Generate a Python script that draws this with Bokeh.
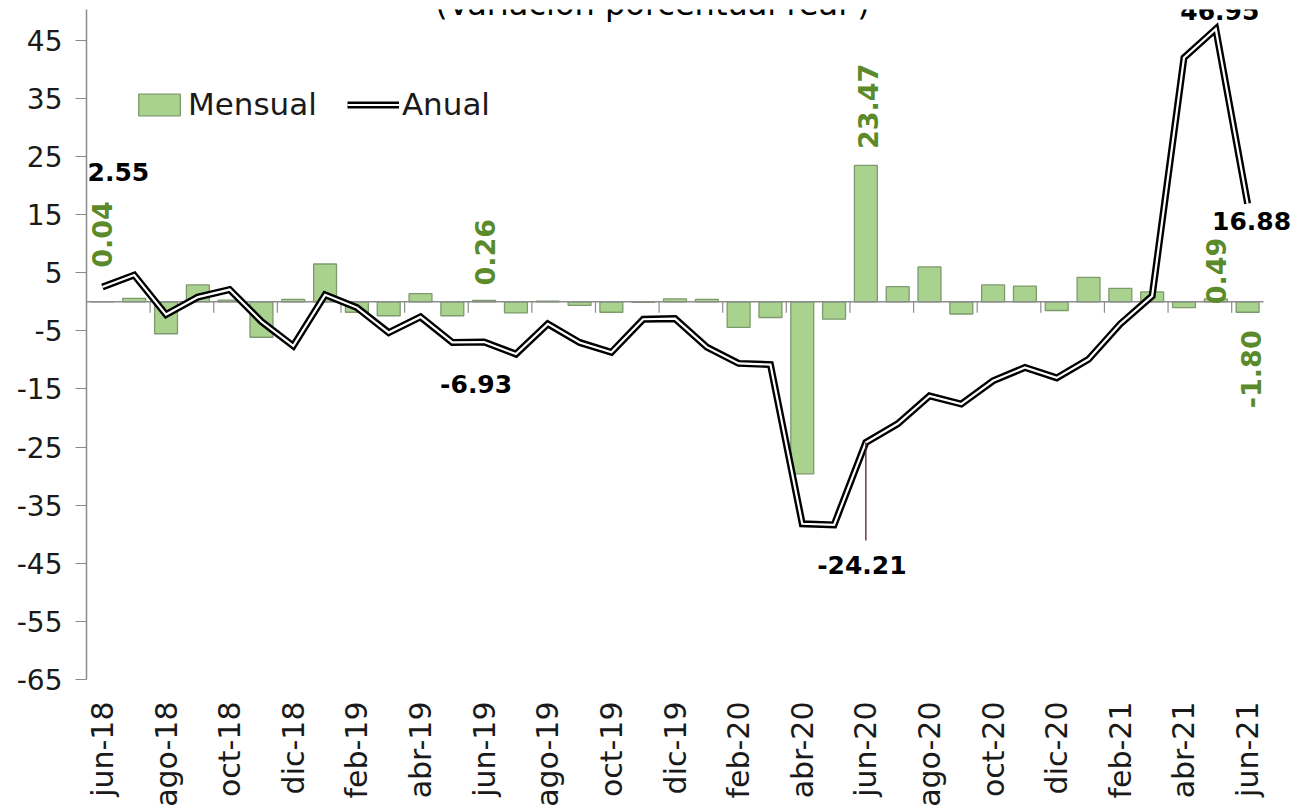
import math
from bokeh.plotting import figure
from bokeh.models import Range1d, FixedTicker, Legend, LegendItem, Label
from bokeh.embed import file_html
from bokeh.resources import INLINE

# ---------------- data ----------------
meses = ["jun-18", "jul-18", "ago-18", "sep-18", "oct-18", "nov-18", "dic-18",
         "ene-19", "feb-19", "mar-19", "abr-19", "may-19", "jun-19", "jul-19",
         "ago-19", "sep-19", "oct-19", "nov-19", "dic-19", "ene-20", "feb-20",
         "mar-20", "abr-20", "may-20", "jun-20", "jul-20", "ago-20", "sep-20",
         "oct-20", "nov-20", "dic-20", "ene-21", "feb-21", "mar-21", "abr-21",
         "may-21", "jun-21"]

mensual = [0.04, 0.6, -5.5, 2.9, 0.3, -6.1, 0.4, 6.5, -1.8, -2.4, 1.4, -2.4,
           0.26, -1.9, 0.1, -0.6, -1.8, -0.1, 0.5, 0.4, -4.4, -2.7, -29.6, -3.0,
           23.47, 2.6, 6.0, -2.1, 2.9, 2.7, -1.5, 4.2, 2.3, 1.7, -1.0, 0.49, -1.80]

anual = [2.55, 4.6, -2.2, 0.8, 2.1, -3.4, -7.6, 1.2, -1.0, -5.3, -2.6, -7.0,
         -6.93, -9.0, -3.8, -7.0, -8.7, -3.0, -2.9, -7.8, -10.6, -10.8, -38.2,
         -38.4, -24.21, -21.0, -16.2, -17.6, -13.6, -11.3, -13.1, -9.9, -3.8,
         1.0, 42.0, 46.95, 16.88]

y_ticks = [-65, -55, -45, -35, -25, -15, -5, 5, 15, 25, 35, 45]
titulo = "(Variación porcentual real )"
serie_nombres = ["Mensual", "Anual"]

idx_etiquetas = [0, 12, 24, 35, 36]

# ---------------- style / layout ----------------
W, H = 1293, 811
Y0, Y1 = -65, 50.3
GREEN_TXT = "#5b8a2b"
BAR_FILL = "#a9d28e"
BAR_LINE = "#7d9a6c"
AXIS_GRAY = "#8c8c8c"
B_LEFT, B_RIGHT, B_TOP, B_BOTTOM = 86, 3, 9, 132
PLOT_W = 1177          # width of the category axis (zero line) in px
RIGHT_PAD = W - B_LEFT - B_RIGHT - PLOT_W   # room right of it for the end labels

# label offsets in screen px (x right, y up)
off_anual = [(16, 115), (-8, -42), (-4, -123), (4, 18), (4, -17)]
off_mensual = [(0, 67), (1, 48), (2, 59), (0, 28), (3, -57)]

n = len(meses)
x = list(range(n))
cat_px = PLOT_W / n
XR0, XR1 = -0.5, n - 0.5 + RIGHT_PAD / cat_px

p = figure(width=W, height=H, x_range=Range1d(XR0, XR1), y_range=Range1d(Y0, Y1),
           output_backend="svg", toolbar_location=None,
           min_border_left=B_LEFT, min_border_right=B_RIGHT,
           min_border_top=B_TOP, min_border_bottom=B_BOTTOM)
p.grid.visible = False
p.outline_line_color = None
p.background_fill_color = "white"
p.border_fill_color = "white"

frame_w = W - B_LEFT - B_RIGHT
frame_h = H - B_TOP - B_BOTTOM
px_per_unit = frame_h / (Y1 - Y0)


def to_sx(xv):
    return (xv - XR0) / (XR1 - XR0) * frame_w


def to_sy(yv):
    return (yv - Y0) * px_per_unit


# x axis (labels only)
p.xaxis.ticker = FixedTicker(ticks=list(range(0, n, 2)))
p.xaxis.major_label_overrides = {i: meses[i] for i in range(0, n, 2)}
p.xaxis.major_label_orientation = math.pi / 2
p.xaxis.axis_line_color = None
p.xaxis.major_tick_line_color = None
p.xaxis.minor_tick_line_color = None
p.xaxis.major_label_standoff = 16
p.xaxis.major_label_text_font = "DejaVu Sans"
p.xaxis.major_label_text_font_size = "30px"
p.xaxis.major_label_text_color = "#1a1a1a"

# y axis
p.yaxis.ticker = FixedTicker(ticks=y_ticks)
p.yaxis.major_label_overrides = {t: str(t) for t in y_ticks}
p.yaxis.axis_line_color = AXIS_GRAY
p.yaxis.axis_line_width = 1.5
p.yaxis.major_tick_line_color = AXIS_GRAY
p.yaxis.major_tick_line_width = 1.2
p.yaxis.major_tick_out = 11
p.yaxis.major_tick_in = 0
p.yaxis.minor_tick_line_color = None
p.yaxis.major_label_standoff = 13
p.yaxis.major_label_text_font = "DejaVu Sans"
p.yaxis.major_label_text_font_size = "28px"
p.yaxis.major_label_text_color = "#1a1a1a"

# bars
rb = p.vbar(x=x, top=mensual, bottom=0, width=0.72, fill_color=BAR_FILL,
            line_color=BAR_LINE, line_width=1.3)

# zero (category) axis line with tick marks every 2 categories
p.segment(x0=[-0.5], y0=[0], x1=[n - 0.5], y1=[0], line_color=AXIS_GRAY, line_width=1.5)
tick_x = [k - 0.5 for k in range(2, n, 2)]
tick_len = 11 / px_per_unit
p.segment(x0=tick_x, y0=[0] * len(tick_x), x1=tick_x, y1=[-tick_len] * len(tick_x),
          line_color=AXIS_GRAY, line_width=1.2)

# annual line (double line: black outer, white inner)
r1 = p.line(x, anual, line_color="black", line_width=7, line_join="miter")
r2 = p.line(x, anual, line_color="white", line_width=2.2, line_join="miter")

# leader line for the jun-20 label
lead_len = 98 / px_per_unit
p.segment(x0=[24], y0=[anual[24]], x1=[24], y1=[anual[24] - lead_len],
          line_color="#5a1a22", line_width=1.3)

# data labels, placed in screen units derived from the data
for i, (dx, dy) in zip(idx_etiquetas, off_anual):
    p.add_layout(Label(x=to_sx(i) + dx, y=to_sy(anual[i]) + dy,
                       x_units="screen", y_units="screen", text=f"{anual[i]:.2f}",
                       text_font="DejaVu Sans", text_font_style="bold",
                       text_font_size="25px", text_align="center",
                       text_baseline="middle", text_color="black"))
for i, (dx, dy) in zip(idx_etiquetas, off_mensual):
    p.add_layout(Label(x=to_sx(i) + dx, y=to_sy(mensual[i]) + dy,
                       x_units="screen", y_units="screen", text=f"{mensual[i]:.2f}",
                       angle=math.pi / 2, text_font="DejaVu Sans", text_font_style="bold",
                       text_font_size="27px", text_align="center",
                       text_baseline="middle", text_color=GREEN_TXT))

# legend
legend = Legend(items=[LegendItem(label=serie_nombres[0], renderers=[rb]),
                       LegendItem(label=serie_nombres[1], renderers=[r1, r2])],
                location=(47, 557), orientation="horizontal",
                glyph_width=52, glyph_height=27, label_standoff=3, spacing=30,
                padding=0, margin=0, border_line_alpha=0, background_fill_alpha=0,
                label_text_font="DejaVu Sans", label_text_font_size="31px",
                label_text_color="#1a1a1a")
p.add_layout(legend)

# title (mostly cut off at the top, as in the source)
p.add_layout(Label(x=566, y=frame_h + 6, x_units="screen", y_units="screen", text=titulo,
                   text_align="center", text_baseline="alphabetic",
                   text_font="DejaVu Sans", text_font_size="32px", text_color="black"))

open("out.html", "w").write(file_html(p, INLINE))
